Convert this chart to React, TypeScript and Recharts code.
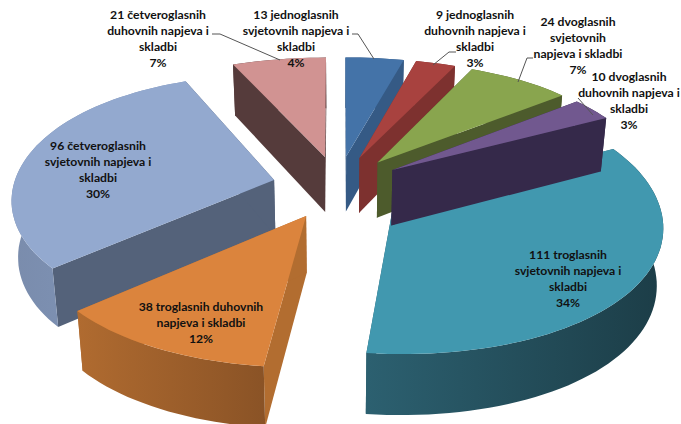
import React from 'react';
import { Pie, PieChart } from 'recharts';

const names = [
  'jednoglasni svjetovni',
  'jednoglasni duhovni',
  'dvoglasni svjetovni',
  'dvoglasni duhovni',
  'troglasni svjetovni',
  'troglasni duhovni',
  'cetveroglasni svjetovni',
  'cetveroglasni duhovni',
];
const counts = [13, 9, 24, 10, 111, 38, 96, 21];
const topColors = ['#4473a8', '#a8423f', '#89a54e', '#71588f', '#4198af', '#db843d', '#93a9cf', '#d19392'];
const faceColors = ['#355a85', '#7d312f', '#4d5b2c', '#35294a', '#2b5d6c', '#b26d30', '#54627a', '#553b3b'];
const wallLeft = ['#355a85', '#7d312f', '#4d5b2c', '#35294a', '#2c6070', '#b06b30', '#7a8cac', '#553b3b'];
const wallRight = ['#355a85', '#7d312f', '#4d5b2c', '#35294a', '#1c3d47', '#8a5326', '#8299bf', '#553b3b'];

// the reference paints slices in this order, not in data order
const drawOrder = [4, 0, 1, 2, 3, 7, 6, 5];

const labelLines = [
  { x: 98, y: 146, lines: ['96 četveroglasnih', 'svjetovnih napjeva i', 'skladbi', '30%'] },
  { x: 158, y: 15, lines: ['21 četveroglasnih', 'duhovnih napjeva i', 'skladbi', '7%'] },
  { x: 296, y: 15, lines: ['13 jednoglasnih', 'svjetovnih napjeva i', 'skladbi', '4%'] },
  { x: 475, y: 15, lines: ['9 jednoglasnih', 'duhovnih napjeva i', 'skladbi', '3%'] },
  { x: 578, y: 22, lines: ['24 dvoglasnih', 'svjetovnih', 'napjeva i skladbi', '7%'] },
  { x: 629, y: 77, lines: ['10 dvoglasnih', 'duhovnih napjeva i', 'skladbi', '3%'] },
  { x: 568, y: 255, lines: ['111 troglasnih', 'svjetovnih napjeva i', 'skladbi', '34%'] },
  { x: 201, y: 307, lines: ['38 troglasnih duhovnih', 'napjeva i skladbi', '12%'] },
];
const leaders = [
  '212,34 220,34 280,60',
  '352,34 358,34 374,59',
  '456,52 449,52 433,65',
  '533,58 527,58 518,82',
  '578,98 593,115',
];

const data = names.map((name, i) => ({ name, value: counts[i], index: i }));

const CX = 338;
const CY = 187;
const EXPLODE = 66;
const rad = Math.PI / 180;

// flat pie coordinates to screen, with a bit of perspective towards the front
const project = (X: number, Y: number) => {
  return [CX + X * (1 + 0.0005 * Y + 0.0000005 * Y * Y), CY + 0.482 * Y * (1 + 0.00054 * Y)];
};
const drop = (X: number, Y: number) => {
  const [x, y] = project(X, Y);
  return [CX + (x - CX) * 0.98, y + 56 * (1 + 0.0003 * Y)];
};
const toPath = (pts: number[][]) =>
  pts.map((p, i) => `${i ? 'L' : 'M'}${p[0].toFixed(1)},${p[1].toFixed(1)}`).join('') + 'Z';

const Slice3D = (props: any) => {
  const i = props.payload?.index ?? props.index;
  const from = 90 - props.startAngle;
  const to = 90 - props.endAngle;
  const r = props.outerRadius;
  const mid = ((from + to) / 2) * rad;
  const ax = Math.sin(mid) * EXPLODE;
  const ay = -Math.cos(mid) * EXPLODE;
  const arc: number[][] = [];
  const steps = Math.max(2, Math.ceil((to - from) / 2));
  for (let s = 0; s <= steps; s++) {
    const t = (from + ((to - from) * s) / steps) * rad;
    arc.push([ax + Math.sin(t) * r, ay - Math.cos(t) * r]);
  }
  const first = arc[0];
  const last = arc[arc.length - 1];
  const quad = (a: number[], b: number[]) =>
    toPath([project(a[0], a[1]), project(b[0], b[1]), drop(b[0], b[1]), drop(a[0], a[1])]);
  const top = toPath([project(ax, ay), ...arc.map((p) => project(p[0], p[1]))]);
  const wall = toPath([
    ...arc.map((p) => project(p[0], p[1])),
    ...arc.slice().reverse().map((p) => drop(p[0], p[1])),
  ]);
  return (
    <g>
      <path d={quad([ax, ay], first)} fill={faceColors[i]} />
      <path d={quad([ax, ay], last)} fill={faceColors[i]} />
      <path d={wall} fill={`url(#wall${i})`} />
      <path d={top} fill={topColors[i]} />
    </g>
  );
};

const App = () => (
  <div style={{ position: 'absolute', left: 0, top: 0, width: 681, height: 424, overflow: 'hidden', background: '#fff' }}>
    <PieChart width={681} height={424} margin={{ top: 0, right: 0, bottom: 0, left: 0 }}>
      <defs>
        {names.map((_, i) => (
          <linearGradient key={i} id={`wall${i}`} x1='0' y1='0' x2='1' y2='0'>
            <stop offset='0%' stopColor={wallLeft[i]} />
            <stop offset='100%' stopColor={wallRight[i]} />
          </linearGradient>
        ))}
      </defs>
      {drawOrder.map((slice) => (
        <Pie
          key={slice}
          data={data}
          dataKey='value'
          nameKey='name'
          cx={CX}
          cy={CY}
          outerRadius={261}
          startAngle={90}
          endAngle={-270}
          stroke='none'
          isAnimationActive={false}
          shape={(props: any) => ((props.payload?.index ?? props.index) === slice ? <Slice3D {...props} /> : <g />)}
        />
      ))}
    </PieChart>
    {/* labels sit in their own svg, the pie layers paint over chart children */}
    <svg width={681} height={424} style={{ position: 'absolute', left: 0, top: 0, pointerEvents: 'none' }}>
      {leaders.map((points) => (
        <polyline key={points} points={points} fill='none' stroke='#555' strokeWidth={1} />
      ))}
      {labelLines.map((label) => (
        <text
          key={label.lines[0]}
          x={label.x}
          y={label.y + 4}
          textAnchor='middle'
          fontFamily='Lato, sans-serif'
          fontWeight={700}
          fontSize={12.2}
          fill='#111'
        >
          {label.lines.map((line, i) => (
            <tspan key={i} x={label.x} dy={i === 0 ? 0 : 16}>
              {line}
            </tspan>
          ))}
        </text>
      ))}
    </svg>
  </div>
);

export default App;
